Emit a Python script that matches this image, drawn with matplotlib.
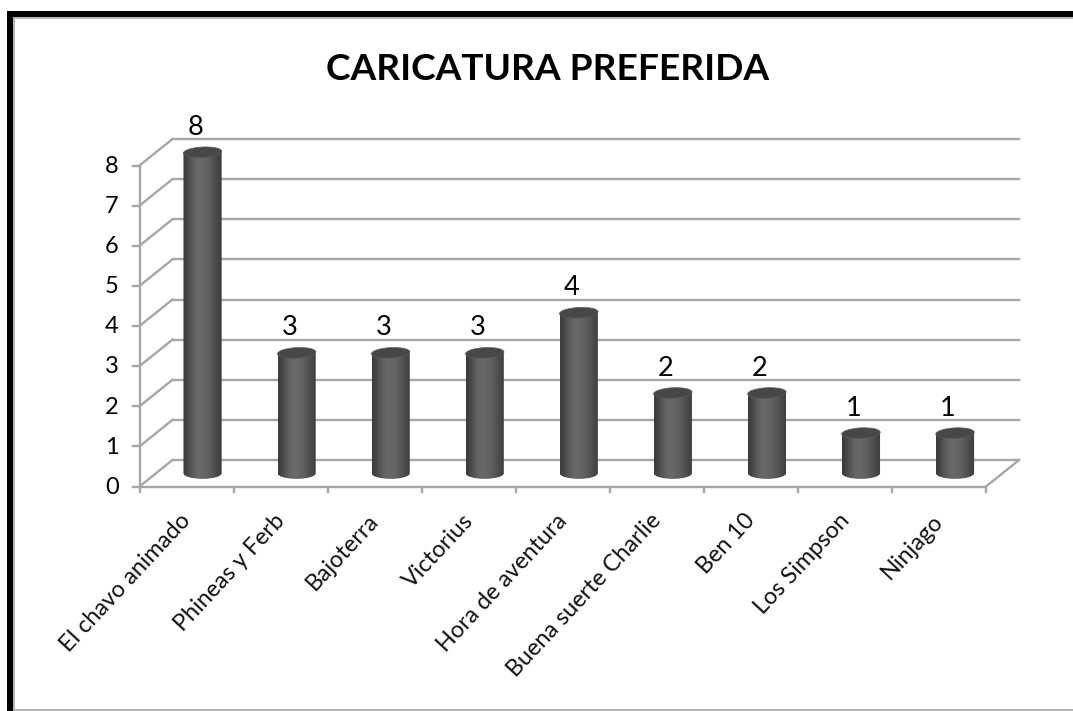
import numpy as np
import matplotlib
matplotlib.use("Agg")
import matplotlib.pyplot as plt
from matplotlib.patches import Ellipse, PathPatch, Rectangle
from matplotlib.path import Path

categories = ["El chavo animado", "Phineas y Ferb", "Bajoterra", "Victorius",
              "Hora de aventura", "Buena suerte Charlie", "Ben 10", "Los Simpson", "Ninjago"]
values = [8, 3, 3, 3, 4, 2, 2, 1, 1]
y_ticks = [0, 1, 2, 3, 4, 5, 6, 7, 8]

W, H = 1073, 711
GRID = "#a6a6a6"
plt.rcParams["font.family"] = ["Lato", "DejaVu Sans"]

fig = plt.figure(figsize=(W / 100, H / 100), dpi=100, facecolor="white")

# frame of the pasted screenshot
fig.add_artist(Rectangle((7 / W, 0), 6 / W, 1 - 11 / H, transform=fig.transFigure, fc="black", ec="none"))
fig.add_artist(Rectangle((7 / W, 1 - 17 / H), 1 - 7 / W, 6 / H, transform=fig.transFigure, fc="black", ec="none"))
fig.add_artist(Rectangle((13 / W, 0), 2 / W, 1 - 17 / H, transform=fig.transFigure, fc="#b5b5b5", ec="none"))
fig.add_artist(Rectangle((13 / W, 1 - 19 / H), 1 - 13 / W, 2 / H, transform=fig.transFigure, fc="#b5b5b5", ec="none"))
fig.add_artist(Rectangle((13 / W, 0), 1 - 13 / W, 2 / H, transform=fig.transFigure, fc="#b5b5b5", ec="none"))

# axes = front plane of the 3d box
left, right, bottom, top = 139.5, 986, 486.5, 165.5
ax = fig.add_axes([left / W, 1 - bottom / H, (right - left) / W, (bottom - top) / H])
n = len(categories)
ax.set_xlim(0, n)
ax.set_ylim(0, 8)
ax.patch.set_visible(False)
for s in ax.spines.values():
    s.set_visible(False)
ax.set_xticks([])
ax.set_yticks([])

# depth of the box in data units
dx = 33 / ((right - left) / n)
dy = 26.5 / ((bottom - top) / 8)

line = dict(color=GRID, lw=1.7, clip_on=False, solid_capstyle="projecting", zorder=1)
for v in y_ticks:
    ax.plot([dx, n + dx], [v + dy, v + dy], **line)
    ax.plot([0, dx], [v, v + dy], **line)
    ax.plot([-0.07, 0], [v, v], **line)
    ax.text(-0.22, v - 0.02, str(v), ha="right", va="center", fontsize=17, color="black", clip_on=False)
ax.plot([0, 0], [0, 8], **line)
ax.plot([0, n], [0, 0], **line)
ax.plot([n, n + dx], [0, dy], **line)
for i in range(n + 1):
    ax.plot([i, i], [0, -0.14], **line)

# cylinders
half_w = 0.203
ell_h = 0.14
shade = np.array([[0.24, 0.28, 0.33, 0.37, 0.40, 0.41, 0.40, 0.39, 0.37, 0.34, 0.31, 0.28, 0.25]])
for i, v in enumerate(values):
    xc = i + 0.5 + dx / 2 - 0.005
    y0 = dy / 2
    y1 = v + dy / 2
    k = 0.5523
    verts = [(xc - half_w, y1), (xc + half_w, y1), (xc + half_w, y0),
             (xc + half_w, y0 - ell_h * k), (xc + half_w * k, y0 - ell_h), (xc, y0 - ell_h),
             (xc - half_w * k, y0 - ell_h), (xc - half_w, y0 - ell_h * k), (xc - half_w, y0),
             (xc - half_w, y1)]
    codes = [Path.MOVETO, Path.LINETO, Path.LINETO, Path.CURVE4, Path.CURVE4, Path.CURVE4,
             Path.CURVE4, Path.CURVE4, Path.CURVE4, Path.CLOSEPOLY]
    im = ax.imshow(shade, extent=(xc - half_w, xc + half_w, y0 - ell_h, y1), cmap="gray",
                   vmin=0, vmax=1, aspect="auto", interpolation="bilinear", zorder=3)
    body = PathPatch(Path(verts, codes), transform=ax.transData, fc="none", ec="none")
    ax.add_patch(body)
    im.set_clip_path(body)
    # the tallest bar pokes above the axes box
    im.set_clip_box(fig.bbox)

    # tilted top cap, built in pixels so the angle stays right
    cx, cy = ax.transData.transform((xc, y1))
    cap = Ellipse((cx, cy), 38.5, 10.5, angle=3, transform=None, fc="#474747", ec="#5a5a5a", lw=0.5,
                  zorder=4, clip_on=False)
    ax.add_artist(cap)

    ax.annotate(str(v), (xc, y1), xytext=(-7, 25), textcoords="offset pixels", ha="center", va="center",
                fontsize=19.5, color="black", annotation_clip=False, zorder=5)

# rotated category labels
for i, name in enumerate(categories):
    ax.annotate(name, (i + 0.5, 0), xytext=(-5, -17), textcoords="offset points", rotation=47,
                rotation_mode="anchor", ha="right", va="top", fontsize=16.8, color="#111111",
                annotation_clip=False)

ax.set_xlim(0, n)
ax.set_ylim(0, 8)

fig.text(548 / W, 1 - 69 / H, "CARICATURA PREFERIDA", ha="center", va="center",
         fontsize=26.7, fontweight="bold", color="black")

fig.savefig("out.png", dpi=100)
